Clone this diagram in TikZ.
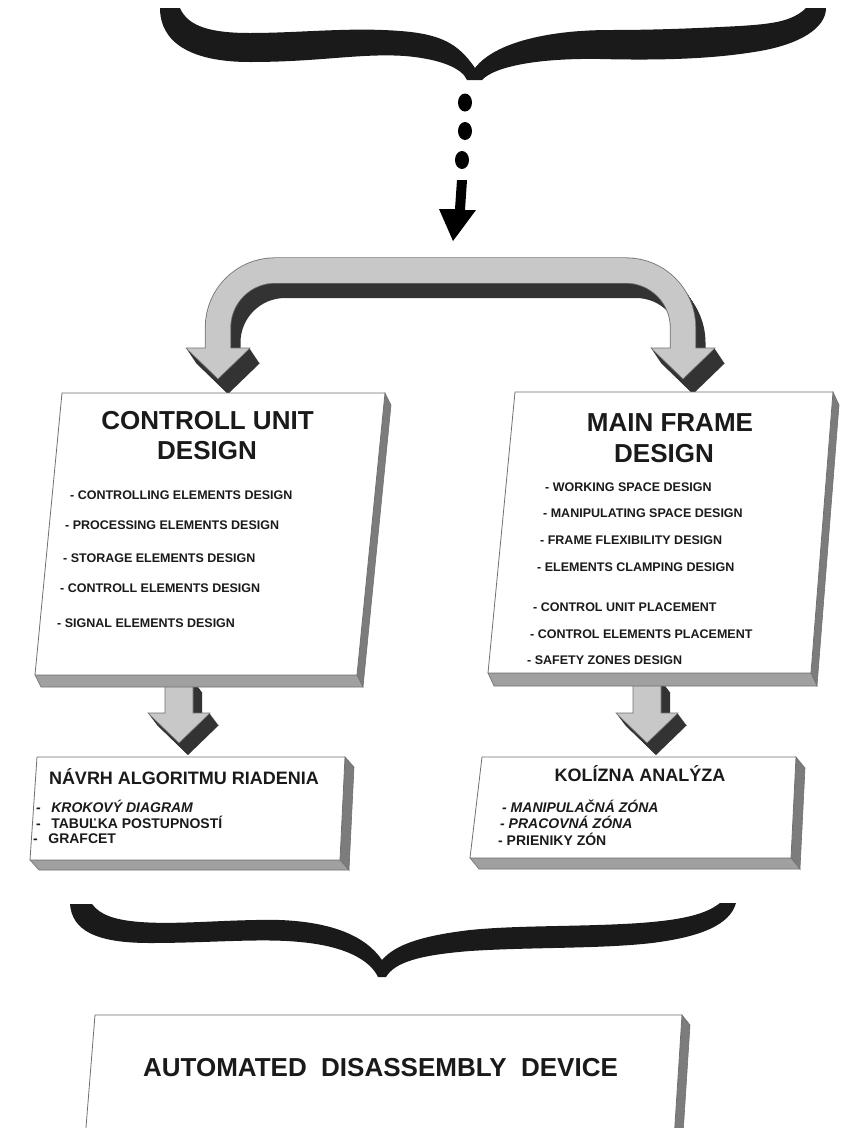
\documentclass[tikz,border=0pt]{standalone}
\usepackage{fontspec}
\setmainfont{Liberation Sans}
\definecolor{lightface}{HTML}{C8C8C8}
\definecolor{darkface}{HTML}{333333}
\definecolor{edge}{HTML}{707070}
\definecolor{slab}{HTML}{A0A0A0}
\definecolor{slabside}{HTML}{7C7C7C}
\definecolor{ink}{HTML}{1A1A1A}
\tikzset{
  bigtitle/.style={font=\bfseries\fontsize{26}{30}\selectfont, inner sep=0pt, anchor=base, text=ink},
  item/.style={font=\bfseries\fontsize{12.5}{14}\selectfont, inner sep=0pt, anchor=base west, text=ink},
  subtitle/.style={font=\bfseries\fontsize{18}{20}\selectfont, inner sep=0pt, anchor=base, text=ink},
  subitem/.style={font=\bfseries\fontsize{14}{16}\selectfont, inner sep=0pt, anchor=base west, text=ink},
  subitemit/.style={font=\bfseries\itshape\fontsize{14}{16}\selectfont, inner sep=0pt, anchor=base west, text=ink},
  frontface/.style={fill=white, draw=edge, line width=0.8pt},
  bottomface/.style={fill=slab, draw=edge, line width=0.6pt},
  sideface/.style={fill=slabside, draw=edge, line width=0.6pt},
}
% slab box: #1 TLx, #2 top y, #3 TRx, #4 BRx, #5 bottom y, #6 BLx, #7 ox, #8 oy
\newcommand\drawslab[8]{%
  \filldraw[sideface] (#3,#2) -- (#3+#7,#2+#8) -- (#4+#7,#5+#8) -- (#4,#5) -- cycle;
  \filldraw[bottomface] (#6,#5) -- (#4,#5) -- (#4+#7,#5+#8) -- (#6+#7,#5+#8) -- cycle;
  \filldraw[frontface] (#1,#2) -- (#3,#2) -- (#4,#5) -- (#6,#5) -- cycle;
}
% 3D block arrow pointing down: #1 centre x, #2 top y
\newcommand\blockdown[2]{%
  \foreach \k in {12,11,...,1}{%
    \fill[darkface, shift={(\k*9/12,\k)}] (#1-14,#2) -- (#1+14,#2) -- (#1+14,713) -- (#1+31,713) -- (#1,743) -- (#1-31,713) -- (#1-14,713) -- cycle;}
  \filldraw[lightface, draw=edge, line width=0.6pt] (#1-14,#2) -- (#1+14,#2) -- (#1+14,713) -- (#1+31,713) -- (#1,743) -- (#1-31,713) -- (#1-14,713) -- cycle;
}
\begin{document}
\begin{tikzpicture}[x=1pt,y=-1pt]
\useasboundingbox (0,0) rectangle (841,1128);
\fill[white] (0,0) rectangle (841,1128);

% top brace
\fill[ink] (160,8) .. controls (160,42) and (190,62) .. (250,62)
  .. controls (320,62) and (360,53) .. (405,56)
  .. controls (440,59) and (462,68) .. (467,80)
  -- (482,80)
  .. controls (495,66) and (540,58) .. (600,59)
  .. controls (680,61) and (725,57) .. (760,51)
  .. controls (800,44) and (826,28) .. (826,8)
  -- (806,8)
  .. controls (792,22) and (770,24) .. (740,26)
  .. controls (700,28) and (660,30) .. (610,30)
  .. controls (550,30) and (495,42) .. (475,68)
  .. controls (458,43) and (440,34) .. (400,31)
  .. controls (350,27) and (300,33) .. (250,33)
  .. controls (212,33) and (188,27) .. (180,8)
  -- cycle;

% dots and arrow
\fill[black] (465,102.5) ellipse [x radius=7pt, y radius=9pt];
\fill[black] (465,131) ellipse [x radius=7pt, y radius=9pt];
\fill[black] (462,160) ellipse [x radius=7pt, y radius=9pt];
\fill[black] (457,180) -- (467,180) -- (465,210) -- (476,210) -- (453,241) -- (439,209) -- (455,209) -- cycle;

% curved double block arrow
\foreach \k in {15,14,...,1}{%
  \begin{scope}[shift={(\k*10/15,\k)}]
    \draw[darkface, line width=25pt, rounded corners=57pt] (218,348) -- (218,270.5) -- (683,270.5) -- (683,348);
    \fill[darkface] (186,348) -- (250,348) -- (218,379) -- cycle;
    \fill[darkface] (651,348) -- (715,348) -- (683,379) -- cycle;
  \end{scope}}
\draw[edge, line width=26.2pt, rounded corners=57pt] (218,348) -- (218,270.5) -- (683,270.5) -- (683,348);
\draw[lightface, line width=24.6pt, rounded corners=57pt] (218,348) -- (218,270.5) -- (683,270.5) -- (683,348);
\fill[lightface] (186,348) -- (250,348) -- (218,379) -- cycle;
\draw[edge, line width=0.6pt] (205.5,348) -- (186,348) -- (218,379) -- (250,348) -- (230.5,348);
\fill[lightface] (651,348) -- (715,348) -- (683,379) -- cycle;
\draw[edge, line width=0.6pt] (670.5,348) -- (651,348) -- (683,379) -- (715,348) -- (695.5,348);

% straight block arrows
\blockdown{179}{680}
\blockdown{647}{680}

% boxes
\drawslab{62}{393}{385}{357}{675}{35}{6}{12}
\drawslab{515}{392}{833}{811}{673}{488}{6}{13}
\drawslab{37}{757}{345}{340}{860}{30}{9}{10}
\drawslab{482}{757}{796}{791}{858}{470}{9}{11}
\drawslab{95}{1015}{682}{674}{1140}{85}{8}{10}

% left big box text
\node[bigtitle] (cut1) at (207.5,429.3) {CONTROLL UNIT};
\node[bigtitle] (cut2) at (207,459.3) {DESIGN};
\node[item] (cu1) at (70,499.5) {- CONTROLLING ELEMENTS DESIGN};
\node[item] (cu2) at (65,529.5) {- PROCESSING ELEMENTS DESIGN};
\node[item] (cu3) at (63,562.5) {- STORAGE ELEMENTS DESIGN};
\node[item] (cu4) at (60,592.5) {- CONTROLL ELEMENTS DESIGN};
\node[item] (cu5) at (57,627.5) {- SIGNAL ELEMENTS DESIGN};

% right big box text
\node[bigtitle] (mft1) at (670,431.3) {MAIN FRAME};
\node[bigtitle] (mft2) at (664,462.3) {DESIGN};
\node[item] (mf1) at (545,491.5) {- WORKING SPACE DESIGN};
\node[item] (mf2) at (543,517.5) {- MANIPULATING SPACE DESIGN};
\node[item] (mf3) at (540,544.5) {- FRAME FLEXIBILITY DESIGN};
\node[item] (mf4) at (537,571.5) {- ELEMENTS CLAMPING DESIGN};
\node[item] (mf5) at (533,611.5) {- CONTROL UNIT PLACEMENT};
\node[item] (mf6) at (530,638.5) {- CONTROL ELEMENTS PLACEMENT};
\node[item] (mf7) at (527,664.5) {- SAFETY ZONES DESIGN};

% lower left box
\node[subtitle] (nt) at (184,784.4) {NÁVRH ALGORITMU RIADENIA};
\node[subitemit] (n1) at (36,812) {-\hspace{0.75em}KROKOVÝ DIAGRAM};
\node[subitem] (n2) at (36,828) {-\hspace{0.75em}TABUĽKA POSTUPNOSTÍ};
\node[subitem] (n3) at (33,843) {-\hspace{0.75em}GRAFCET};

% lower right box
\node[subtitle] (kt) at (640,781.4) {KOLÍZNA ANALÝZA};
\node[subitemit] (k1) at (502,812) {- MANIPULAČNÁ ZÓNA};
\node[subitemit] (k2) at (500,828) {- PRACOVNÁ ZÓNA};
\node[subitem] (k3) at (498,845) {- PRIENIKY ZÓN};

% bottom brace
\fill[ink] (70,904) .. controls (72,930) and (95,943) .. (150,943)
  .. controls (210,943) and (260,938) .. (300,942)
  .. controls (345,946) and (370,960) .. (378,977)
  -- (386,977)
  .. controls (395,962) and (420,955) .. (470,951)
  .. controls (530,947) and (600,949) .. (652,943)
  .. controls (700,937) and (730,925) .. (736,903)
  -- (720,903)
  .. controls (705,915) and (680,920) .. (640,923)
  .. controls (580,927) and (520,925) .. (470,930)
  .. controls (420,936) and (395,945) .. (382,960)
  .. controls (365,935) and (330,922) .. (280,920)
  .. controls (230,919) and (180,925) .. (140,922)
  .. controls (115,920) and (100,915) .. (92,904)
  -- cycle;

% bottom box text
\node[bigtitle] (add) at (380.5,1076.3) {AUTOMATED\ \ DISASSEMBLY\ \ DEVICE};
\end{tikzpicture}
\end{document}
